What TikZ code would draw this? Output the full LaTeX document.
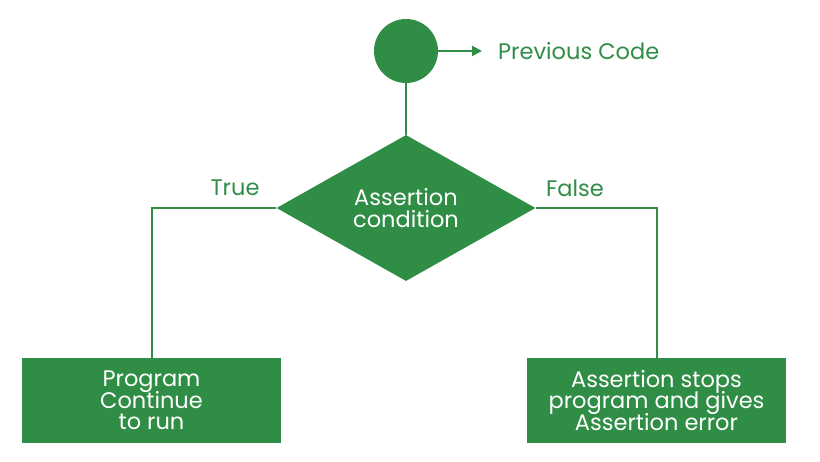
\documentclass[tikz,border=0pt]{standalone}
\usepackage{fontspec}
\setmainfont{Poppins}
\usetikzlibrary{shapes.geometric,arrows.meta}
\definecolor{gfg}{HTML}{2F8D46}
% let baselines stay evenly spaced regardless of glyph heights
\newcommand\tightlines{\lineskiplimit=-20pt\relax}
\begin{document}
\begin{tikzpicture}[x=1pt,y=-1pt,
  flow/.style={draw=gfg,line width=2pt},
  label/.style={text=gfg,font=\fontsize{22.5}{24}\selectfont},
  boxtext/.style={text=white,font=\fontsize{22.5}{21.5}\selectfont\tightlines,align=center},
  result/.style={fill=gfg,minimum width=259pt,minimum height=85pt,inner sep=0pt,boxtext}]
\useasboundingbox (0,0) rectangle (820,462);
% start point and its outgoing arrow
\node[circle,fill=gfg,minimum size=64pt,inner sep=0pt] (start) at (406,51) {};
\coordinate (prevtip) at (482,51);
\draw[flow,-{Triangle[length=10pt,width=10pt]}] (start.east) -- (prevtip);
\node[label,anchor=west,inner sep=0pt] (prev) at (498,51) {Previous Code};
% decision
\node[diamond,fill=gfg,minimum width=259pt,minimum height=146pt,inner sep=0pt,
      aspect=1.77,boxtext] (cond) at (406,208) {Assertion\\condition};
\draw[flow] (start.south) -- (cond.north);
% outcomes
\node[result] (cont) at (151.5,400.5) {Program\\Continue\\to run};
\node[result] (stop) at (656.5,400.5) {Assertion stops\\program and gives\\Assertion error};
\draw[flow] (cond.west) -| (cont.north);
\draw[flow] (cond.east) -| (stop.north);
\node[label] (true) at (235,188) {True};
\node[label] (false) at (575,188) {False};
\end{tikzpicture}
\end{document}
